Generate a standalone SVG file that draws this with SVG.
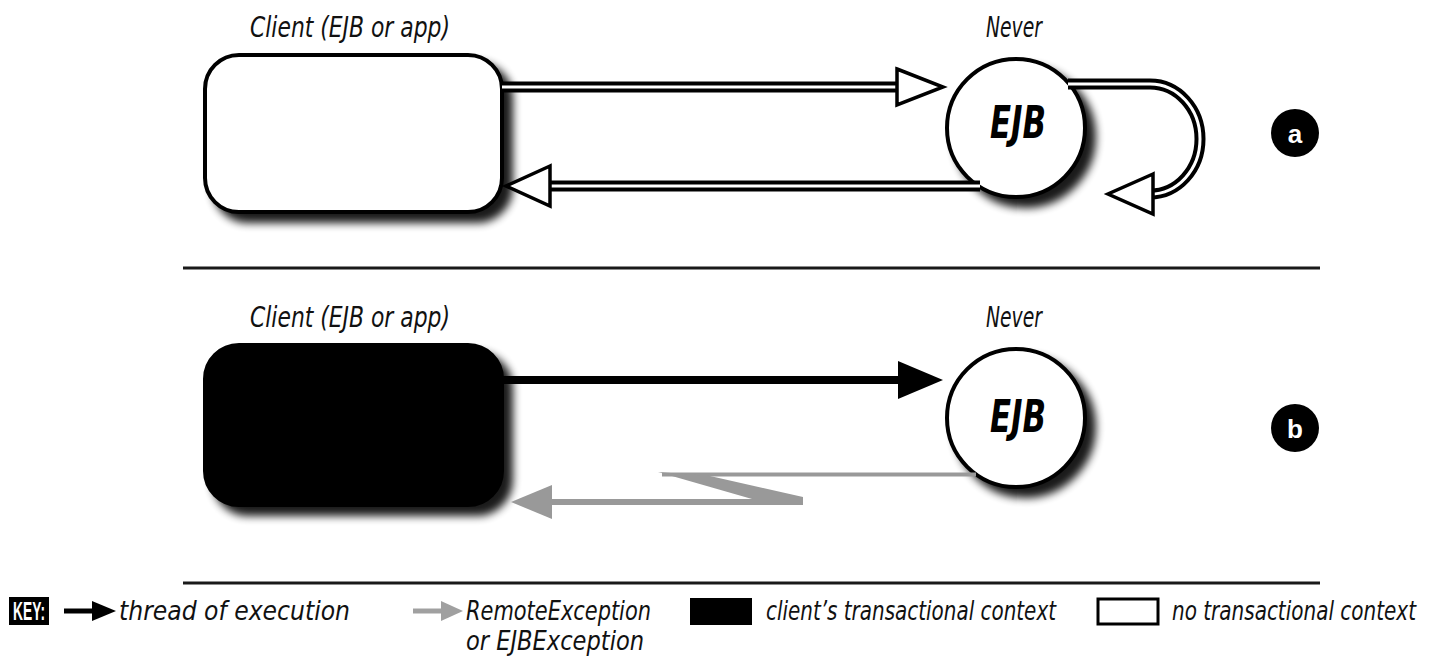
<svg xmlns="http://www.w3.org/2000/svg" width="1440" height="670" viewBox="0 0 1440 670">
<style>
.lbl{font-family:"Liberation Sans Narrow","DejaVu Sans Condensed","Liberation Sans",sans-serif;font-style:italic;font-size:28px;fill:#111}
.ejb{font-family:"Liberation Sans Narrow","DejaVu Sans Condensed","Liberation Sans",sans-serif;font-style:italic;font-weight:bold;font-size:44px;fill:#000}
.key{font-family:"Liberation Sans Narrow","DejaVu Sans Condensed","Liberation Sans",sans-serif;font-style:italic;font-size:27px;fill:#111}
.tag{font-family:"Liberation Sans","DejaVu Sans",sans-serif;font-weight:bold;font-size:26px;fill:#fff}
.sep{stroke:#1a1a1a;stroke-width:3}
.dblo{fill:none;stroke:#000;stroke-width:11}
.dbli{fill:none;stroke:#fff;stroke-width:3}
.hollow{fill:#fff;stroke:#000;stroke-width:3.5;stroke-linejoin:miter}
</style>
<defs>
<filter id="sh" x="-20%" y="-20%" width="150%" height="150%">
<feGaussianBlur in="SourceAlpha" stdDeviation="4"/>
<feOffset dx="9" dy="9" result="b"/>
<feComponentTransfer><feFuncA type="linear" slope="0.9"/></feComponentTransfer>
<feMerge><feMergeNode/><feMergeNode in="SourceGraphic"/></feMerge>
</filter>
</defs>
<rect width="1440" height="670" fill="#fff"/>

<g id="client-a">
<text class="lbl" x="350" y="37" text-anchor="middle" textLength="200" lengthAdjust="spacingAndGlyphs">Client (EJB or app)</text>
<rect x="205" y="55" width="297" height="157" rx="34" fill="#fff" stroke="#000" stroke-width="4" filter="url(#sh)"/>
</g>
<g id="ejb-a">
<text class="lbl" x="1014" y="37" text-anchor="middle" textLength="56" lengthAdjust="spacingAndGlyphs">Never</text>
<circle cx="1016" cy="128" r="69" fill="#fff" stroke="#000" stroke-width="4" filter="url(#sh)"/>
<text class="ejb" x="1018" y="138" text-anchor="middle" textLength="56" lengthAdjust="spacingAndGlyphs">EJB</text>
</g>
<g id="tag-a">
<circle cx="1295" cy="133" r="24" fill="#000"/>
<text class="tag" x="1295" y="143" text-anchor="middle">a</text>
</g>

<line class="sep" x1="183" y1="268" x2="1320" y2="268"/>

<g id="client-b">
<text class="lbl" x="350" y="327" text-anchor="middle" textLength="200" lengthAdjust="spacingAndGlyphs">Client (EJB or app)</text>
<rect x="205" y="345" width="297" height="160" rx="34" fill="#000" stroke="#000" stroke-width="4" filter="url(#sh)"/>
</g>
<g id="ejb-b">
<text class="lbl" x="1014" y="327" text-anchor="middle" textLength="56" lengthAdjust="spacingAndGlyphs">Never</text>
<circle cx="1016" cy="418" r="69" fill="#fff" stroke="#000" stroke-width="4" filter="url(#sh)"/>
<text class="ejb" x="1018" y="432" text-anchor="middle" textLength="56" lengthAdjust="spacingAndGlyphs">EJB</text>
</g>
<g id="tag-b">
<circle cx="1295" cy="428" r="24" fill="#000"/>
<text class="tag" x="1295" y="438" text-anchor="middle">b</text>
</g>

<line class="sep" x1="183" y1="583" x2="1320" y2="583"/>

<g id="connectors">
<path class="dblo" d="M502 87 H898"/>
<path class="dbli" d="M502 87 H898"/>
<polygon class="hollow" points="897,69 943,87 897,105"/>
<path class="dblo" d="M980 186 H548"/>
<path class="dbli" d="M980 186 H548"/>
<polygon class="hollow" points="550,166 506,186 550,206"/>
<path class="dblo" d="M1068 84 H1150 A50 55 0 0 1 1150 194"/>
<path class="dbli" d="M1068 84 H1150 A50 55 0 0 1 1150 194"/>
<polygon class="hollow" points="1153,174 1108,194 1153,214"/>
<line x1="502" y1="380" x2="902" y2="380" stroke="#000" stroke-width="8"/>
<polygon points="898,361 943,380 898,399" fill="#000"/>
<line x1="976" y1="474.5" x2="662" y2="474.5" stroke="#999" stroke-width="4"/>
<polygon points="658,472 710,476 803,497 803,505 752,499" fill="#999"/>
<line x1="803" y1="502" x2="548" y2="502" stroke="#999" stroke-width="6"/>
<polygon points="552,485 511,502 552,519" fill="#999"/>
</g>

<g id="key">
<rect x="9" y="597" width="40" height="28" fill="#000"/>
<text class="tag" x="29" y="620" text-anchor="middle" font-size="20" textLength="32" lengthAdjust="spacingAndGlyphs">KEY:</text>
<line x1="64" y1="611" x2="94" y2="611" stroke="#000" stroke-width="5"/>
<polygon points="92,601 116,611 92,621" fill="#000"/>
<text class="key" x="119" y="620" textLength="231" lengthAdjust="spacingAndGlyphs">thread of execution</text>
<line x1="413" y1="611" x2="443" y2="611" stroke="#a0a0a0" stroke-width="5"/>
<polygon points="441,601 463,611 441,621" fill="#a0a0a0"/>
<text class="key" x="466" y="620" textLength="185" lengthAdjust="spacingAndGlyphs">RemoteException</text>
<text class="key" x="466" y="650" textLength="178" lengthAdjust="spacingAndGlyphs">or EJBException</text>
<rect x="690" y="598" width="62" height="27" fill="#000"/>
<text class="key" x="766" y="620" textLength="290" lengthAdjust="spacingAndGlyphs">client’s transactional context</text>
<rect x="1098" y="599" width="60" height="25" fill="#fff" stroke="#000" stroke-width="3"/>
<text class="key" x="1172" y="620" textLength="244" lengthAdjust="spacingAndGlyphs">no transactional context</text>
</g>
</svg>
